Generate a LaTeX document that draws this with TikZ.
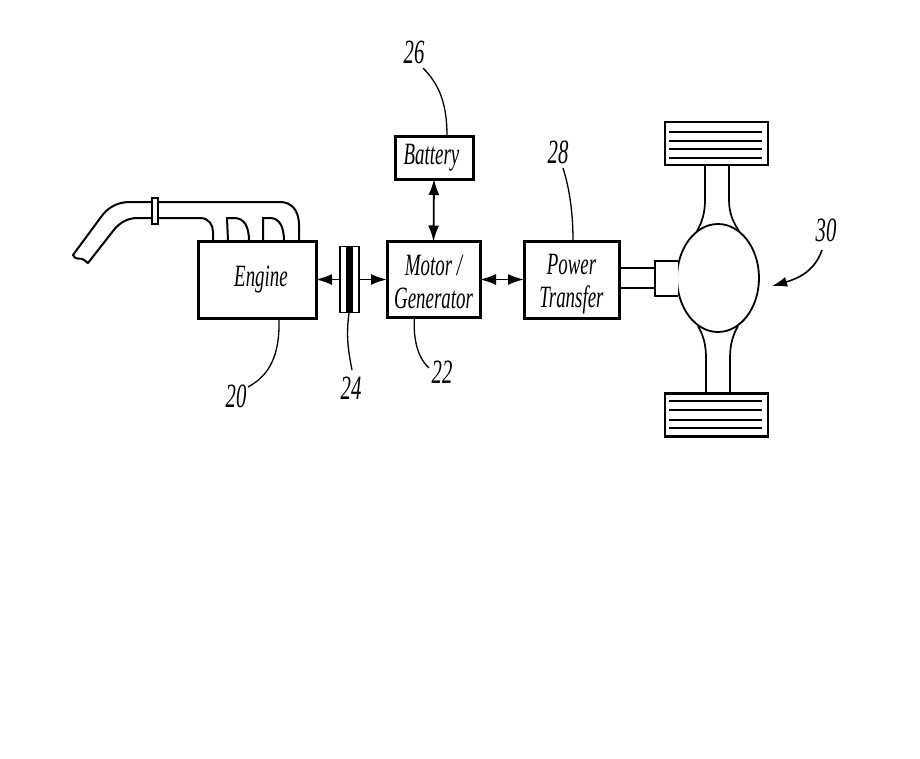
\documentclass[tikz,border=0pt]{standalone}
\usepackage{fontspec}
\usetikzlibrary{arrows.meta,shapes.geometric}
\newfontfamily\patentfont[FakeStretch=0.61]{Liberation Serif}
\tikzset{
  unit/.style={draw,line width=3pt,outer sep=0pt,inner sep=0pt,align=center,
    font=\patentfont\itshape\fontsize{31}{33}\selectfont},
  wheel/.style={draw,line width=2.6pt,outer sep=0pt,minimum width=103pt,minimum height=43pt},
  plate/.style={draw,line width=1.2pt,outer sep=0pt,minimum width=7pt,minimum height=66pt,inner sep=0pt},
  refnum/.style={inner sep=0pt,font=\patentfont\itshape\fontsize{34}{34}\selectfont},
  pipe/.style={line width=2pt,line cap=round},
  axle/.style={line width=1.7pt},
  leader/.style={line width=1.3pt},
  power/.style={line width=1.8pt,{Latex[length=16pt,width=11pt]}-{Latex[length=16pt,width=11pt]}},
  single/.style={line width=1.8pt,-{Latex[length=16pt,width=11pt]}}
}
\begin{document}
\begin{tikzpicture}[x=1pt,y=-1pt]
\path (0,0) rectangle (920,758);
% boxes
\node[unit,minimum width=118pt,minimum height=77pt] (engine) at (257,279.5) {\hspace*{8pt}Engine};
\node[unit,minimum width=93pt,minimum height=76pt] (motor) at (433.5,279.5) {\rule{0pt}{25pt}Motor /\\Generator};
\node[unit,minimum width=78pt,minimum height=43pt] (battery) at (434,157.5) {\hspace*{-5pt}Battery};
\node[unit,minimum width=95pt,minimum height=77pt] (transfer) at (571.5,279.5) {\rule{0pt}{30pt}Power\\Transfer};
% clutch
\node[plate] (platea) at (343.5,279.5) {};
\node[plate] (plateb) at (355.5,279.5) {};
\draw[line width=2.6pt] (349.5,246) -- (349.5,313);
% arrows
\draw[single] (platea.west) -- (engine.east);
\draw[single] (plateb.east) -- (motor.west);
\draw[power] (battery.south) -- (motor.north);
\draw[power] (motor.east) -- (transfer.west);
% exhaust
\coordinate (tailA) at (73,255);
\coordinate (tailB) at (88,263);
\draw[pipe] (tailA) -- (101,217) .. controls (108,207) and (118,202) .. (130,202) -- (280,202)
  .. controls (292,202) and (299,211) .. (299,225) -- (299,241);
\draw[pipe] (tailB) -- (113,231) .. controls (120,222) and (128,218) .. (138,218) -- (200,218)
  .. controls (209,218) and (213,225) .. (213,232) -- (213,241);
\draw[pipe] (tailA) .. controls (75,261) and (82,257) .. (84,260) -- (tailB);
\draw[pipe] (228,241) -- (227,218) -- (234,218) .. controls (244,218) and (249,226) .. (249,241);
\draw[pipe] (263,241) -- (263,218) -- (270,218) .. controls (279,218) and (284,226) .. (284,241);
\node[draw,fill=white,line width=1.6pt,outer sep=0pt,inner sep=0pt,minimum width=6pt,minimum height=26pt] (collar) at (155,211) {};
% axle and drive
\node[draw,ellipse,line width=1.8pt,outer sep=0pt,inner sep=0pt,minimum width=82pt,minimum height=108pt] (diff) at (718,278) {};
\node[wheel] (wheeltop) at (716.5,143.5) {};
\node[wheel] (wheelbot) at (716.5,415) {};
\draw[axle] (wheeltop.south -| 705,0) -- (705,200) .. controls (705,213) and (702,222) .. (697,231);
\draw[axle] (wheeltop.south -| 729,0) -- (729,200) .. controls (729,213) and (733,222) .. (739,231);
\draw[axle] (wheelbot.north -| 706,0) -- (706,358) .. controls (706,344) and (703,335) .. (698,326);
\draw[axle] (wheelbot.north -| 730,0) -- (730,358) .. controls (730,344) and (733,335) .. (738,326);
\draw[axle,fill=white] (678,261) -- (655,261) -- (655,296) -- (678,296);
\draw[axle] (transfer.east |- 0,268) -- (655,268);
\draw[axle] (transfer.east |- 0,288) -- (655,288);
% tread
\foreach \ty in {132,141,149,158,401,410,420,428} {
  \draw[line width=1.6pt] (669,\ty) -- (762,\ty);
}
% reference numerals
\node[refnum] (num26) at (414,52) {26};
\node[refnum] (num28) at (558,152) {28};
\node[refnum] (num22) at (442,372) {22};
\node[refnum] (num24) at (351,388) {24};
\node[refnum] (num20) at (236,396) {20};
\node[refnum] (num30) at (826,230) {30};
\coordinate (end26) at (423,68);
\coordinate (end28) at (563,168);
\coordinate (end22) at (429,368);
\coordinate (end24) at (352,370);
\coordinate (end20) at (248,387);
\coordinate (end30) at (822,250);
\draw[leader] (end26) .. controls (440,85) and (447,105) .. ([xshift=13pt]battery.north);
\draw[leader] (end28) .. controls (570,190) and (573,215) .. ([xshift=1.5pt]transfer.north);
\draw[leader] ([xshift=-19pt]motor.south) .. controls (413,340) and (418,358) .. (end22);
\draw[leader] (349,313) .. controls (346,335) and (348,350) .. (end24);
\draw[leader] ([xshift=22pt]engine.south) .. controls (280,355) and (270,375) .. (end20);
\draw[line width=1.6pt,-{Latex[length=15pt,width=10pt]}] (end30) .. controls (815,270) and (800,278) .. (772,286);
\end{tikzpicture}
\end{document}
